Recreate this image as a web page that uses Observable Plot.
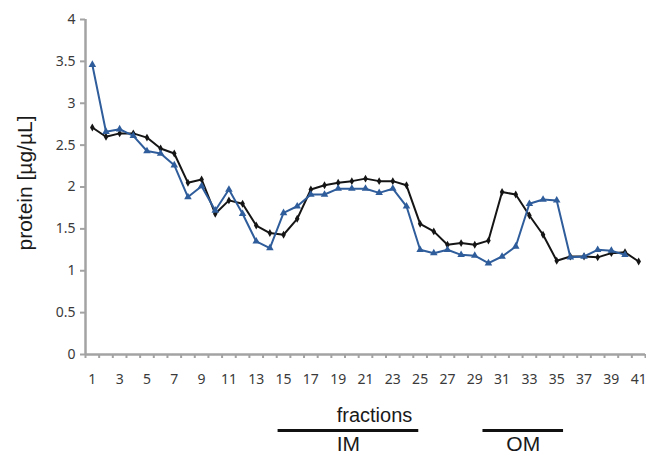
<!DOCTYPE html>
<html>
<head>
<meta charset="utf-8">
<script src="https://cdn.jsdelivr.net/npm/d3@7"></script>
<script src="https://cdn.jsdelivr.net/npm/@observablehq/plot@0.6"></script>
<style>
  html, body { margin: 0; padding: 0; background: #fff; }
  #chart svg { display: block; }
</style>
</head>
<body>
<div id="chart"></div>
<script>
const fractions = [1,2,3,4,5,6,7,8,9,10,11,12,13,14,15,16,17,18,19,20,21,22,23,24,25,26,27,28,29,30,31,32,33,34,35,36,37,38,39,40,41];
const seriesBlack = [2.71,2.60,2.64,2.64,2.59,2.46,2.40,2.05,2.09,1.68,1.84,1.80,1.54,1.45,1.43,1.62,1.97,2.02,2.05,2.07,2.10,2.07,2.07,2.02,1.56,1.47,1.31,1.33,1.31,1.36,1.94,1.91,1.66,1.43,1.12,1.17,1.17,1.16,1.21,1.22,1.11];
const seriesBlue = [3.46,2.66,2.69,2.61,2.43,2.40,2.26,1.88,2.01,1.72,1.97,1.68,1.35,1.27,1.69,1.77,1.91,1.91,1.98,1.98,1.98,1.93,1.98,1.77,1.25,1.21,1.25,1.19,1.18,1.09,1.17,1.29,1.80,1.85,1.84,1.16,1.17,1.25,1.24,1.19];
const yTicks = [0,0.5,1,1.5,2,2.5,3,3.5,4];
const xTickLabels = [1,3,5,7,9,11,13,15,17,19,21,23,25,27,29,31,33,35,37,39,41];
const spans = [
  {label: "IM", from: 14.6, to: 24.9},
  {label: "OM", from: 29.6, to: 35.5}
];
const yTitle = "protein [µg/µL]";
const xTitle = "fractions";

const blackData = fractions.map((f, i) => ({f, v: seriesBlack[i]}));
const blueData = seriesBlue.map((v, i) => ({f: fractions[i], v}));
const boundaries = [fractions[0] - 0.5, ...fractions.map(f => f + 0.5)];

const axisGray = "#a3a3a3";
const blue = "#2f5d9b";
const black = "#151515";
const arial = "'Liberation Sans', Arial, sans-serif";

const chart = Plot.plot({
  width: 646,
  height: 454,
  marginLeft: 85,
  marginRight: 1,
  marginTop: 19,
  marginBottom: 100,
  style: {fontFamily: "'Noto Sans', sans-serif", background: "#fff"},
  x: {domain: [fractions[0] - 0.5, fractions[fractions.length - 1] + 0.5], axis: null, label: null},
  y: {domain: [yTicks[0], yTicks[yTicks.length - 1]], axis: null, label: null},
  marks: [
    Plot.axisY({ticks: yTicks, tickSize: 5, text: null, label: null, stroke: axisGray, strokeWidth: 2}),
    Plot.axisY({ticks: yTicks, tickSize: 0, tickPadding: 10, label: null, tickFormat: d => String(d), fill: "#3a3a3a", fontSize: 14}),
    Plot.axisX({ticks: boundaries, tickSize: 4, text: null, label: null, stroke: axisGray, strokeWidth: 2}),
    Plot.axisX({ticks: xTickLabels, tickSize: 0, tickPadding: 20, label: null, tickFormat: d => String(d), fill: "#3a3a3a", fontSize: 14}),
    Plot.ruleX([boundaries[0]], {stroke: axisGray, strokeWidth: 2.5}),
    Plot.ruleY([yTicks[0]], {stroke: axisGray, strokeWidth: 2.5}),
    Plot.line(blackData, {x: "f", y: "v", stroke: black, strokeWidth: 2}),
    Plot.dot(blackData, {x: "f", y: "v", symbol: "diamond", r: 2.4, fill: black}),
    Plot.line(blueData, {x: "f", y: "v", stroke: blue, strokeWidth: 2}),
    Plot.dot(blueData, {x: "f", y: "v", symbol: "triangle", r: 2.8, fill: blue}),
    Plot.text([yTitle], {frameAnchor: "left", textAnchor: "middle", dx: -60, dy: -4, rotate: -90, fontSize: 21, fill: "#1a1a1a", fontFamily: arial}),
    Plot.text([xTitle], {frameAnchor: "bottom", dx: 9, dy: 53, lineAnchor: "top", fontSize: 20, fill: "#1a1a1a", fontFamily: arial}),
    Plot.ruleY(spans, {x1: "from", x2: "to", y: yTicks[0], dy: 76, stroke: "#111", strokeWidth: 3}),
    Plot.text(spans, {x: d => (d.from + d.to) / 2, y: yTicks[0], dy: 82, lineAnchor: "top", text: "label", fontSize: 21, fill: "#1a1a1a", fontFamily: arial})
  ]
});
document.getElementById("chart").appendChild(chart);
</script>
</body>
</html>
